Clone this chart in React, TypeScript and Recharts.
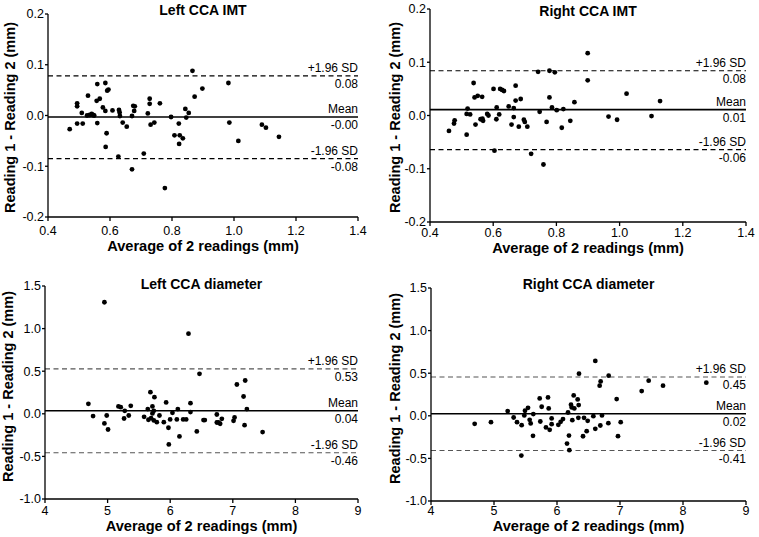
import React from 'react';
import { ScatterChart, Scatter, XAxis, YAxis, ReferenceLine } from 'recharts';

const FONT = '"Liberation Sans", Arial, Helvetica, sans-serif';

// ---------- data ----------
const leftImtAvg = [0.470,0.494,0.494,0.494,0.509,0.512,0.529,0.526,0.534,0.541,0.545,0.549,0.559,0.557,0.567,0.559,0.577,0.585,0.585,0.589,0.586,0.591,0.595,0.608,0.629,0.631,0.632,0.627,0.641,0.654,0.671,0.675,0.680,0.678,0.671,0.709,0.722,0.728,0.728,0.731,0.743,0.761,0.777,0.797,0.808,0.822,0.825,0.823,0.835,0.843,0.846,0.854,0.866,0.873,0.898,0.982,0.985,1.014,1.090,1.103,1.145];
const leftImtDiff = [-0.027,0.024,0.018,-0.016,0.005,-0.016,0.039,0.000,0.001,0.003,0.001,0.000,0.062,0.029,0.033,-0.015,0.016,0.064,0.009,-0.035,-0.062,0.049,0.051,0.010,0.011,0.006,-0.001,-0.081,-0.014,-0.022,-0.001,0.019,0.018,0.009,-0.106,-0.075,0.004,0.033,0.023,-0.018,-0.014,0.024,-0.143,-0.003,-0.039,-0.016,-0.039,-0.056,-0.045,0.013,-0.004,0.005,0.088,0.037,0.053,0.064,-0.014,-0.050,-0.018,-0.024,-0.042];

const rightImtAvg = [0.460,0.476,0.478,0.516,0.519,0.516,0.527,0.538,0.541,0.544,0.551,0.560,0.565,0.566,0.568,0.581,0.585,0.601,0.604,0.610,0.611,0.619,0.622,0.628,0.634,0.649,0.658,0.665,0.665,0.671,0.671,0.681,0.687,0.697,0.700,0.708,0.720,0.742,0.747,0.759,0.769,0.778,0.778,0.786,0.795,0.801,0.817,0.822,0.844,0.857,0.899,0.899,0.965,0.992,1.022,1.101,1.128];
const rightImtDiff = [-0.029,-0.015,-0.009,-0.036,0.013,0.003,0.002,0.061,0.034,-0.017,0.037,-0.007,0.035,-0.006,-0.010,0.003,0.000,0.050,-0.066,-0.007,0.015,0.002,0.050,0.048,0.046,0.017,-0.017,0.014,-0.003,0.056,0.028,-0.021,0.031,-0.008,-0.012,-0.021,-0.072,0.082,0.007,-0.092,-0.012,0.084,0.034,0.015,0.081,0.010,-0.023,0.012,-0.010,0.025,0.117,0.066,-0.002,-0.008,0.041,-0.001,0.027];

const leftDiaAvg = [4.693,4.768,4.949,4.949,4.986,5.007,5.173,5.210,5.263,5.274,5.338,5.370,5.583,5.642,5.652,5.684,5.695,5.716,5.716,5.738,5.748,5.738,5.786,5.828,5.898,5.935,5.972,5.978,5.999,6.036,6.106,6.122,6.148,6.207,6.255,6.292,6.324,6.324,6.425,6.468,6.532,6.553,6.745,6.745,6.772,6.798,6.825,7.012,7.028,7.065,7.172,7.198,7.188,7.225,7.476];
const leftDiaDiff = [0.117,-0.027,1.309,-0.113,-0.020,-0.184,0.086,0.078,-0.055,0.035,-0.020,0.094,-0.035,0.055,-0.070,0.254,-0.051,0.086,0.004,0.035,0.195,-0.078,-0.098,-0.020,-0.098,0.133,-0.164,-0.359,-0.066,0.012,-0.066,0.055,-0.266,-0.066,-0.066,0.941,0.125,0.020,-0.207,0.469,-0.074,-0.074,-0.008,-0.102,-0.102,-0.117,-0.059,-0.082,-0.043,0.344,0.203,0.391,-0.133,0.055,-0.215];

const rightDiaAvg = [4.693,4.952,5.217,5.312,5.365,5.439,5.481,5.492,5.540,5.566,5.582,5.619,5.624,5.434,5.725,5.735,5.757,5.825,5.857,5.868,5.884,5.915,5.915,6.021,6.058,6.095,6.159,6.175,6.190,6.196,6.222,6.233,6.243,6.265,6.275,6.328,6.344,6.339,6.349,6.429,6.471,6.487,6.577,6.608,6.608,6.688,6.677,6.693,6.714,6.820,6.815,6.947,6.968,7.011,7.344,7.455,7.683,8.370,6.413];
const rightDiaDiff = [-0.094,-0.075,0.055,-0.020,-0.075,-0.110,0.004,0.059,0.094,-0.047,-0.090,-0.235,0.020,-0.467,0.204,-0.067,0.106,-0.137,0.216,0.086,-0.165,-0.031,-0.098,-0.106,-0.071,-0.039,-0.326,0.039,-0.232,-0.404,0.130,0.098,-0.051,0.239,0.086,0.192,0.126,-0.024,0.494,-0.024,-0.181,-0.059,-0.004,-0.153,0.644,-0.114,0.353,0.404,0.004,0.471,-0.086,0.196,-0.239,-0.075,0.290,0.412,0.353,0.389,-0.240];

const limitNames = ['+1.96 SD', 'Mean', '-1.96 SD'];
const leftImtLimits = [0.078, -0.003, -0.085];
const leftImtLimitText = ['0.08', '-0.00', '-0.08'];
const rightImtLimits = [0.084, 0.011, -0.064];
const rightImtLimitText = ['0.08', '0.01', '-0.06'];
const leftDiaLimits = [0.527, 0.035, -0.457];
const leftDiaLimitText = ['0.53', '0.04', '-0.46'];
const rightDiaLimits = [0.455, 0.024, -0.408];
const rightDiaLimitText = ['0.45', '0.02', '-0.41'];

const imtXTicks = [0.4, 0.6, 0.8, 1.0, 1.2, 1.4];
const imtYTicks = [-0.2, -0.1, 0, 0.1, 0.2];
const diaXTicks = [4, 5, 6, 7, 8, 9];
const diaYTicks = [-1.0, -0.5, 0, 0.5, 1.0, 1.5];

const xTitle = 'Average of 2 readings (mm)';
const yTitle = 'Reading 1 - Reading 2 (mm)';

// ---------- components ----------
function LimitLabel(props: any) {
  const vb = props.viewBox || {};
  const x = (vb.x ?? 0) + (vb.width ?? 0);
  const y = vb.y ?? 0;
  return (
    <g>
      <text x={x} y={y - 4} textAnchor="end" fontSize={12} fontFamily={FONT} fill="#000">{props.upper}</text>
      <text x={x} y={y + 12} textAnchor="end" fontSize={12} fontFamily={FONT} fill="#000">{props.lower}</text>
    </g>
  );
}

function XTitle(props: any) {
  const vb = props.viewBox || {};
  const x = (vb.x ?? 0) + (vb.width ?? 0) / 2;
  const y = (vb.y ?? 0) + (vb.height ?? 0);
  return (
    <text x={x} y={y} textAnchor="middle" fontSize={14.6} fontWeight="bold" fontFamily={FONT} fill="#000">{xTitle}</text>
  );
}

function YTitle(props: any) {
  const vb = props.viewBox || {};
  const x = (vb.x ?? 0) + props.off;
  const y = (vb.y ?? 0) + (vb.height ?? 0) / 2 + (props.dy || 0);
  return (
    <text x={x} y={y} transform={`rotate(-90 ${x} ${y})`} textAnchor="middle" dominantBaseline="central" fontSize={14.5} fontWeight="bold" fontFamily={FONT} fill="#000">{yTitle}</text>
  );
}

const dot = (p: any) => <circle cx={p.cx} cy={p.cy} r={2.4} fill="#000" />;

function Panel(props: any) {
  const { left, top, width, height, margin, yAxisWidth, xAxisHeight, xGap, yTitleOff, yTitleDy,
    title, titleTop, xs, ys, xDomain, xTicks, yDomain, yTicks, xDec, limits, limitText, dashColor } = props;
  const data = xs.map((x: number, i: number) => ({ x, y: ys[i] }));
  const tickStyle = { fill: '#000', fontSize: 12.5, fontFamily: FONT };
  return (
    <div style={{ position: 'absolute', left, top, width, height }}>
      <ScatterChart width={width} height={height} margin={margin}>
        <XAxis type="number" dataKey="x" domain={xDomain} ticks={xTicks} interval={0}
          tickFormatter={(v: number) => v.toFixed(xDec)} height={xAxisHeight}
          axisLine={{ stroke: '#000', strokeWidth: 1.3 }} tickLine={{ stroke: '#000', strokeWidth: 1.3 }}
          tickSize={4} tickMargin={xGap} tick={tickStyle} allowDataOverflow
          label={(p: any) => <XTitle {...p} />} />
        <YAxis type="number" dataKey="y" domain={yDomain} ticks={yTicks} interval={0}
          tickFormatter={(v: number) => v.toFixed(1)} width={yAxisWidth}
          axisLine={{ stroke: '#000', strokeWidth: 1.3 }} tickLine={{ stroke: '#000', strokeWidth: 1.3 }}
          tickSize={3} tickMargin={1} tick={tickStyle} allowDataOverflow
          label={(p: any) => <YTitle {...p} off={yTitleOff} dy={yTitleDy} />} />
        <ReferenceLine y={limits[0]} stroke={dashColor} strokeWidth={1.1} strokeDasharray="5 3.5"
          label={(p: any) => <LimitLabel {...p} upper={limitNames[0]} lower={limitText[0]} />} />
        <ReferenceLine y={limits[1]} stroke="#000" strokeWidth={1.6}
          label={(p: any) => <LimitLabel {...p} upper={limitNames[1]} lower={limitText[1]} />} />
        <ReferenceLine y={limits[2]} stroke={dashColor} strokeWidth={1.1} strokeDasharray="5 3.5"
          label={(p: any) => <LimitLabel {...p} upper={limitNames[2]} lower={limitText[2]} />} />
        <Scatter data={data} shape={dot} isAnimationActive={false} />
      </ScatterChart>
      <div style={{ position: 'absolute', left: 0, width: '100%', top: titleTop, textAlign: 'center',
        fontFamily: FONT, fontWeight: 'bold', fontSize: 14, lineHeight: '14px', color: '#000',
        paddingLeft: yAxisWidth + margin.left - margin.right, boxSizing: 'border-box' }}>
        {title}
      </div>
    </div>
  );
}

export default function App() {
  return (
    <div style={{ position: 'absolute', left: 0, top: 0, width: 759, height: 537, background: '#fff', overflow: 'hidden' }}>
      <Panel left={0} top={0} width={380} height={270}
        margin={{ top: 14, right: 22, left: 0, bottom: 19 }} yAxisWidth={48} xAxisHeight={34} xGap={5}
        yTitleOff={10} yTitleDy={2} title="Left CCA IMT" titleTop={3}
        xs={leftImtAvg} ys={leftImtDiff} xDomain={[0.4, 1.4]} xTicks={imtXTicks} yDomain={[-0.2, 0.2]} yTicks={imtYTicks}
        xDec={1} limits={leftImtLimits} limitText={leftImtLimitText} dashColor="#000" />
      <Panel left={380} top={0} width={379} height={270}
        margin={{ top: 9, right: 13, left: 0, bottom: 17 }} yAxisWidth={50} xAxisHeight={31} xGap={2}
        yTitleOff={15} yTitleDy={2} title="Right CCA IMT" titleTop={4}
        xs={rightImtAvg} ys={rightImtDiff} xDomain={[0.4, 1.4]} xTicks={imtXTicks} yDomain={[-0.2, 0.2]} yTicks={imtYTicks}
        xDec={1} limits={rightImtLimits} limitText={rightImtLimitText} dashColor="#000" />
      <Panel left={0} top={270} width={380} height={267}
        margin={{ top: 16, right: 22, left: 0, bottom: 6 }} yAxisWidth={45} xAxisHeight={32} xGap={3}
        yTitleOff={8} yTitleDy={-6} title="Left CCA diameter" titleTop={7}
        xs={leftDiaAvg} ys={leftDiaDiff} xDomain={[4, 9]} xTicks={diaXTicks} yDomain={[-1.0, 1.5]} yTicks={diaYTicks}
        xDec={0} limits={leftDiaLimits} limitText={leftDiaLimitText} dashColor="#555" />
      <Panel left={380} top={270} width={379} height={267}
        margin={{ top: 18, right: 13, left: 0, bottom: 6 }} yAxisWidth={51} xAxisHeight={30} xGap={1}
        yTitleOff={15} yTitleDy={-6} title="Right CCA diameter" titleTop={7}
        xs={rightDiaAvg} ys={rightDiaDiff} xDomain={[4, 9]} xTicks={diaXTicks} yDomain={[-1.0, 1.5]} yTicks={diaYTicks}
        xDec={0} limits={rightDiaLimits} limitText={rightDiaLimitText} dashColor="#555" />
    </div>
  );
}
